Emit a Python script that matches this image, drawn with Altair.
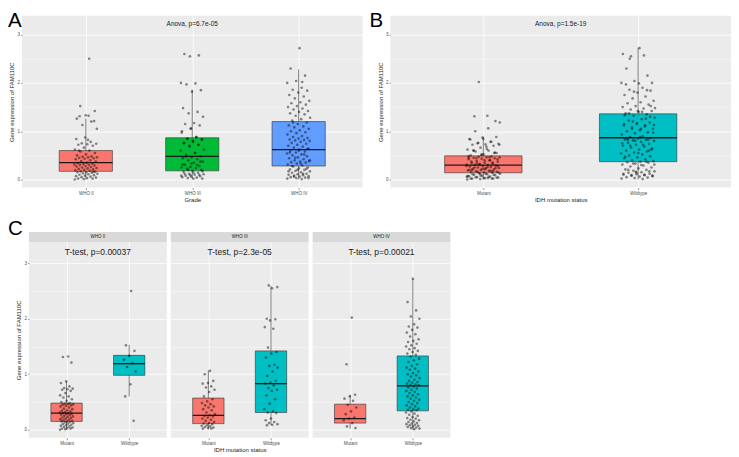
import json
import altair as alt
import pandas as pd

FONT = "Liberation Sans"

GRADES = ["WHO II", "WHO III", "WHO IV"]
IDH = ["Mutant", "Wildtype"]
PANEL_LETTERS = ["A", "B", "C"]

# expression of FAM110C per (grade, IDH status) group
who2_mutant = [1.32, 1.31, 1.21, 0.87, 0.84, 0.78, 0.75, 0.74, 0.73, 0.72, 0.70, 0.66,
               0.62, 0.60, 0.58, 0.55, 0.52, 0.50, 0.48, 0.47, 0.46, 0.46, 0.45, 0.44,
               0.43, 0.42, 0.40, 0.38, 0.37, 0.35, 0.34, 0.33, 0.32, 0.31, 0.30, 0.30,
               0.29, 0.28, 0.27, 0.26, 0.25, 0.24, 0.23, 0.22, 0.21, 0.20, 0.19, 0.18,
               0.17, 0.16, 0.15, 0.15, 0.14, 0.13, 0.12, 0.11, 0.10, 0.09, 0.08, 0.07,
               0.06, 0.05, 0.04, 0.03, 0.02, 0.02, 0.01, 0.00]
who2_wildtype = [2.50, 1.52, 1.42, 1.33, 1.26, 1.20, 1.13, 1.05, 0.82, 0.60, 0.16]
who3_mutant = [1.06, 1.00, 0.88, 0.84, 0.83, 0.78, 0.76, 0.72, 0.68, 0.60, 0.55, 0.51,
               0.48, 0.46, 0.44, 0.42, 0.40, 0.37, 0.35, 0.31, 0.28, 0.26, 0.25, 0.24,
               0.22, 0.20, 0.18, 0.16, 0.14, 0.12, 0.11, 0.10, 0.08, 0.07, 0.06, 0.05,
               0.04, 0.03, 0.02, 0.02]
who3_wildtype = [2.60, 2.57, 2.55, 2.00, 1.99, 1.97, 1.85, 1.82, 1.48, 1.40, 1.37, 1.30,
                 1.17, 1.15, 1.12, 1.05, 0.97, 0.88, 0.85, 0.83, 0.80, 0.75, 0.72, 0.70,
                 0.62, 0.55, 0.47, 0.37, 0.33, 0.31, 0.30, 0.20, 0.17, 0.14, 0.12, 0.10,
                 0.09, 0.08]
who4_mutant = [2.02, 1.18, 0.63, 0.60, 0.56, 0.52, 0.45, 0.40, 0.33, 0.28, 0.22, 0.20,
               0.17, 0.12, 0.06, 0.03]
who4_wildtype = [2.72, 2.30, 2.15, 2.04, 2.00, 1.90, 1.86, 1.84, 1.80, 1.75, 1.72, 1.68,
                 1.63, 1.60, 1.58, 1.55, 1.52, 1.50, 1.47, 1.45, 1.42, 1.40, 1.37, 1.35,
                 1.32, 1.28, 1.25, 1.22, 1.18, 1.15, 1.12, 1.10, 1.08, 1.05, 1.02, 1.00,
                 0.98, 0.96, 0.93, 0.90, 0.88, 0.86, 0.85, 0.83, 0.82, 0.81, 0.80,
                 0.78, 0.76, 0.74, 0.72, 0.70, 0.68, 0.66, 0.64, 0.62, 0.60, 0.58, 0.56,
                 0.54, 0.52, 0.50, 0.48, 0.46, 0.44, 0.42, 0.40, 0.38, 0.37, 0.36, 0.35,
                 0.33, 0.31, 0.29, 0.27, 0.25, 0.23, 0.21, 0.20, 0.18, 0.17, 0.15, 0.14,
                 0.12, 0.11, 0.10, 0.09, 0.08, 0.07, 0.06, 0.05, 0.04, 0.03, 0.02, 0.01]

GROUPS = [[who2_mutant, who2_wildtype],
          [who3_mutant, who3_wildtype],
          [who4_mutant, who4_wildtype]]

# box statistics
boxA_lower = [0.00, 0.02, 0.00]
boxA_q1 = [0.17, 0.18, 0.28]
boxA_med = [0.35, 0.48, 0.62]
boxA_q3 = [0.60, 0.865, 1.20]
boxA_upper = [1.26, 1.86, 2.28]

boxB_lower = [0.00, 0.00]
boxB_q1 = [0.14, 0.37]
boxB_med = [0.30, 0.865]
boxB_q3 = [0.49, 1.36]
boxB_upper = [0.89, 2.73]

boxC_lower = [[0.00, 0.60], [0.02, 0.08], [0.02, 0.00]]
boxC_q1 = [[0.15, 0.98], [0.11, 0.31], [0.12, 0.34]]
boxC_med = [[0.30, 1.19], [0.26, 0.83], [0.20, 0.79]]
boxC_q3 = [[0.48, 1.34], [0.57, 1.42], [0.46, 1.33]]
boxC_upper = [[0.87, 1.53], [1.07, 2.59], [0.63, 2.72]]

ANNOT_A = "Anova, p=6.7e-05"
ANNOT_B = "Anova, p=1.5e-19"
ANNOT_C = ["T-test, p=0.00037", "T-test, p=2.3e-05", "T-test, p=0.00021"]

COLORS_GRADE = ["#F8766D", "#00BA38", "#619CFF"]
COLORS_IDH = ["#F8766D", "#00BFC4"]

Y_TITLE = "Gene expression of FAM110C"
X_TITLE_A = "Grade"
X_TITLE_B = "IDH mutation status"

ANNOT_Y = 3.21
LETTER_SIZE = 20.5


def points_df(value_lists):
    rows = []
    for i, vals in enumerate(value_lists):
        for v in vals:
            rows.append({"pos": i + 1, "value": v})
    return pd.DataFrame(rows)


def box_df(lower, q1, med, q3, upper, colors):
    return pd.DataFrame({
        "pos": list(range(1, len(q1) + 1)),
        "lower": lower, "q1": q1, "med": med, "q3": q3, "upper": upper,
        "color": colors,
    })


def panel(pts, boxes, cats, width, height, ydom, annot, annot_x, annot_size,
          show_y=True, x_title=None, letter=None, letter_dx=0, letter_dy=0,
          letter_visible=True, strip=None):
    n = len(cats)
    xscale = alt.Scale(domain=[0.4, n + 0.6], nice=False, zero=False)
    yscale = alt.Scale(domain=ydom, nice=False, zero=False)
    xaxis = alt.Axis(
        values=list(range(1, n + 1)),
        labelExpr=f"{json.dumps(cats)}[datum.value - 1]",
        grid=True, gridColor="white", gridWidth=0.8,
        domain=False, ticks=True, tickSize=2, tickColor="#333333", tickWidth=0.5,
        labelFontSize=4.5, labelColor="#4d4d4d", labelFont=FONT, labelPadding=1,
        title=x_title, titleFontSize=6, titleFont=FONT, titleFontWeight="normal",
        titleColor="#1a1a1a", titlePadding=1.5,
    )
    half = "datum.value % 1 != 0"
    yaxis_kw = dict(
        values=[0, 0.5, 1, 1.5, 2, 2.5, 3],
        grid=True, gridColor="white",
        gridWidth={"condition": {"test": half, "value": 0.4}, "value": 0.8},
        domain=False,
    )
    if show_y:
        yaxis_kw.update(
            labelExpr=f"{half} ? '' : toString(datum.value)",
            ticks=True, tickSize=1.5, tickColor="#333333", tickWidth=0.5,
            tickOpacity={"condition": {"test": half, "value": 0}, "value": 1},
            labelFontSize=4.5, labelColor="#4d4d4d", labelFont=FONT, labelPadding=1,
            title=Y_TITLE, titleFontSize=6, titleFont=FONT, titleFontWeight="normal",
            titleColor="#1a1a1a", titlePadding=2,
        )
    else:
        yaxis_kw.update(labels=False, ticks=False, title=None, minExtent=0, maxExtent=0)
    yaxis = alt.Axis(**yaxis_kw)

    base_b = alt.Chart(boxes).transform_calculate(
        x0="datum.pos - 0.25", x1="datum.pos + 0.25")
    whisk = base_b.mark_rule(color="#333333", strokeWidth=0.6).encode(
        x=alt.X("pos:Q", scale=xscale, axis=xaxis),
        y=alt.Y("lower:Q", scale=yscale, axis=yaxis),
        y2="upper:Q",
    )
    rect = base_b.mark_rect(stroke="#333333", strokeWidth=0.6).encode(
        x=alt.X("x0:Q", scale=xscale, axis=xaxis),
        x2="x1:Q",
        y=alt.Y("q1:Q", scale=yscale, axis=yaxis),
        y2="q3:Q",
        fill=alt.Fill("color:N", scale=None),
    )
    med = base_b.mark_rule(color="#1a1a1a", strokeWidth=1.3).encode(
        x=alt.X("x0:Q", scale=xscale, axis=xaxis),
        x2="x1:Q",
        y=alt.Y("med:Q", scale=yscale, axis=yaxis),
    )
    dots = alt.Chart(pts).transform_window(
        rn="row_number()"
    ).transform_calculate(
        xj="datum.pos + ((datum.rn * 0.618034) % 1 - 0.5) * 0.22"
    ).mark_circle(size=7, color="black", opacity=0.45).encode(
        x=alt.X("xj:Q", scale=xscale, axis=xaxis),
        y=alt.Y("value:Q", scale=yscale, axis=yaxis),
    )
    txt = alt.Chart(pd.DataFrame({"pos": [annot_x], "y": [ANNOT_Y], "t": [annot]})).mark_text(
        font=FONT, fontSize=annot_size, color="#1a1a1a", baseline="middle", align="center"
    ).encode(
        x=alt.X("pos:Q", scale=xscale, axis=xaxis),
        y=alt.Y("y:Q", scale=yscale, axis=yaxis),
        text="t:N",
    )
    layers = [whisk, rect, med, dots, txt]
    if strip is not None:
        sdf = pd.DataFrame({"t": [strip]})
        srect = alt.Chart(sdf).mark_rect(color="#D9D9D9").encode(
            x=alt.value(0), x2=alt.value(width), y=alt.value(-10), y2=alt.value(0))
        stext = alt.Chart(sdf).mark_text(
            font=FONT, fontSize=4.5, color="#1a1a1a", baseline="middle", align="center"
        ).encode(x=alt.value(width / 2), y=alt.value(-5), text="t:N")
        layers += [srect, stext]
    if letter is not None:
        let = alt.Chart(pd.DataFrame({"t": [letter]})).mark_text(
            font=FONT, fontSize=LETTER_SIZE, color="black", align="left", baseline="top",
            opacity=(1 if letter_visible else 0),
        ).encode(x=alt.value(letter_dx), y=alt.value(letter_dy), text="t:N")
        layers.append(let)
    return alt.layer(*layers).properties(
        width=width, height=height,
        view=alt.ViewBackground(fill="#EBEBEB", strokeWidth=0),
    )


# Panel A: by grade
ptsA = points_df([g[0] + g[1] for g in GROUPS])
boxesA = box_df(boxA_lower, boxA_q1, boxA_med, boxA_q3, boxA_upper, COLORS_GRADE)
A = panel(ptsA, boxesA, GRADES, 341, 172, [-0.166, 3.39], ANNOT_A, 2, 6.5,
          x_title=X_TITLE_A, letter=PANEL_LETTERS[0], letter_dx=-14, letter_dy=-4.5)

# Panel B: by IDH status
ptsB = points_df([sum((g[k] for g in GROUPS), []) for k in range(2)])
boxesB = box_df(boxB_lower, boxB_q1, boxB_med, boxB_q3, boxB_upper, COLORS_IDH)
B = panel(ptsB, boxesB, IDH, 341, 172, [-0.166, 3.39], ANNOT_B, 1.5, 6.5,
          x_title=X_TITLE_B, letter=PANEL_LETTERS[1], letter_dx=-21, letter_dy=-4.5)

# Panel C: by IDH within grade
c_panels = []
for i, grade in enumerate(GRADES):
    p = points_df(GROUPS[i])
    b = box_df(boxC_lower[i], boxC_q1[i], boxC_med[i], boxC_q3[i], boxC_upper[i], COLORS_IDH)
    c_panels.append(panel(
        p, b, IDH, 138, 196, [-0.144, 3.383], ANNOT_C[i], 1.5, 8.5,
        show_y=(i == 0),
        x_title=(X_TITLE_B if i == 1 else None),
        letter=PANEL_LETTERS[2], letter_dx=(-21 if i == 0 else 2), letter_dy=-22.5,
        letter_visible=(i == 0),
        strip=grade,
    ))

# empty view that shifts the bottom row's first panel to the right
spacer = alt.Chart(pd.DataFrame({"a": [0]})).mark_point(opacity=0).encode(
    x=alt.X("a:Q", axis=None), y=alt.Y("a:Q", axis=None)
).properties(width=3, height=196)

top = alt.hconcat(A, B, spacing=28, bounds="flush")
bottom = alt.hconcat(spacer, *c_panels, spacing=4, bounds="flush")
chart = alt.vconcat(top, bottom, spacing=16.5).properties(
    padding={"top": 2.5, "left": 0, "right": 0, "bottom": 0}, background="white"
).configure_view(strokeWidth=0)

chart.save("out.html", embed_options={"renderer": "svg", "actions": False})
